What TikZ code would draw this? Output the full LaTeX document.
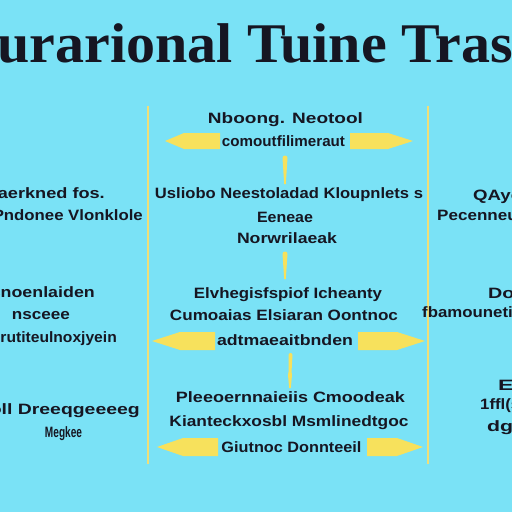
\documentclass[tikz,border=0pt]{standalone}
\usepackage{fontspec}
\setmainfont{Liberation Serif}
\newfontfamily\bodyfont{Liberation Sans}
\usepackage{graphicx}
\definecolor{bg}{RGB}{122,226,246}
\definecolor{ylw}{RGB}{247,225,92}
\definecolor{lineylw}{RGB}{240,222,120}
\definecolor{ink}{RGB}{22,22,34}
\newcommand\fw[2]{\resizebox{#1pt}{\height}{#2}}
\newcommand\harrow[8]{%
  \fill[ylw] (#2,#1) -- (#3,{#1-#8}) -- (#4,{#1-#8}) -- (#4,{#1+#8}) -- (#3,{#1+#8}) -- cycle;
  \fill[ylw] (#5,{#1-#8}) -- (#6,{#1-#8}) -- (#7,#1) -- (#6,{#1+#8}) -- (#5,{#1+#8}) -- cycle;}
\begin{document}
\begin{tikzpicture}[x=1pt,y=-1pt,
  txt/.style={text=ink, font=\bodyfont\bfseries\fontsize{15}{15}\selectfont, inner sep=0pt, anchor=base},
  ttl/.style={text=ink, font=\bfseries\fontsize{56}{56}\selectfont, inner sep=0pt, anchor=base west},
  vline/.style={draw=lineylw, line width=2.5pt},
  spike/.style={fill=ylw}]
\fill[bg] (0,0) rectangle (512,512);
\useasboundingbox (0,0) rectangle (512,512);

% title
\node[ttl] (title) at (-3,62) {\fw{516}{urarional Tuine Tras}};

% vertical frame lines
\coordinate (lt) at (148,106); \coordinate (lb) at (148,464);
\coordinate (rt) at (428,106); \coordinate (rb) at (428,464);
\draw[vline] (lt) -- (lb);
\draw[vline] (rt) -- (rb);

% horizontal double arrows
\harrow{141}{165}{184}{220}{350}{388}{413}{8}
\harrow{341}{152}{180}{215}{358}{397}{425}{9}
\harrow{447}{157}{183}{218}{367}{397}{423}{9}

% vertical spikes
\fill[spike] (282.5,158) arc[start angle=180, end angle=360, radius=2.5] -- (285.8,184) -- (284.2,184) -- cycle;
\fill[spike] (282.5,254) arc[start angle=180, end angle=360, radius=2.5] -- (285.8,279) -- (284.2,279) -- cycle;
\fill[spike] (288.5,355) arc[start angle=180, end angle=360, radius=2] -- (291.5,372) -- (292,375) -- (290.8,388) -- (289.2,388) -- (288,375) -- (288.5,372) -- cycle;

% centre column
\node[txt] (c1) at (285.5,123) {\fw{155}{Nboong. Neotool}};
\node[txt] (c2) at (283.5,146) {\fw{123}{comoutfilimeraut}};
\node[txt] (c3) at (289,198) {\fw{268}{Usliobo Neestoladad Kloupnlets s}};
\node[txt] (c4) at (285,222) {\fw{56}{Eeneae}};
\node[txt] (c5) at (287,243) {\fw{100}{Norwrilaeak}};
\node[txt] (c6) at (288,298) {\fw{188}{Elvhegisfspiof Icheanty}};
\node[txt] (c7) at (284,320) {\fw{228}{Cumoaias Elsiaran Oontnoc}};
\node[txt] (c8) at (285,345) {\fw{136}{adtmaeaitbnden}};
\node[txt] (c9) at (290.5,402) {\fw{229}{Pleeoernnaieiis Cmoodeak}};
\node[txt] (c10) at (289,426) {\fw{239}{Kianteckxosbl Msmlinedtgoc}};
\node[txt] (c11) at (291.5,452) {\fw{140}{Giutnoc Donnteeil}};

% left column
\node[txt, anchor=base east] (l1) at (105,198) {\fw{118}{uaerkned fos.}};
\node[txt, anchor=base east] (l2) at (143,220) {\fw{150}{Pndonee Vlonklole}};
\node[txt, anchor=base east] (l3) at (95,297) {\fw{104}{cnoenlaiden}};
\node[txt] (l4) at (41,319) {\fw{58}{nsceee}};
\node[txt, anchor=base east] (l5) at (117,342) {\fw{125}{crutiteulnoxjyein}};
\node[txt, anchor=base east] (l6) at (140,414) {\fw{150}{oll Dreeqgeeeeg}};
\node[txt] (l7) at (63.5,437) {\fw{37}{Megkee}};

% right column
\node[txt, anchor=base west] (r1) at (473,200) {\fw{48}{QAyc}};
\node[txt, anchor=base west] (r2) at (437,220) {\fw{90}{Pecenneus}};
\node[txt, anchor=base west] (r3) at (488,298) {\fw{34}{Dor}};
\node[txt, anchor=base west] (r4) at (422,317) {\fw{100}{fbamounetiv}};
\node[txt, anchor=base west] (r5) at (498,390) {\fw{22}{Ei}};
\node[txt, anchor=base west] (r6) at (480,409) {\fw{40}{1ffl(s}};
\node[txt, anchor=base west] (r7) at (487,431) {\fw{32}{dgi}};
\end{tikzpicture}
\end{document}
